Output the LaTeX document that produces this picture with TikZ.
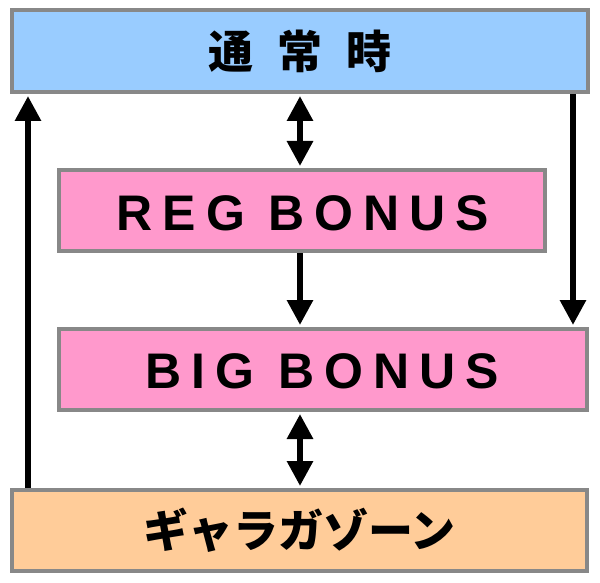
\documentclass[tikz,border=0pt]{standalone}
\usepackage{fontspec}
\setmainfont{Liberation Sans}
\newfontfamily\jpfont{Noto Sans CJK JP}
\usetikzlibrary{arrows.meta}
\definecolor{bluebox}{HTML}{99CCFF}
\definecolor{pinkbox}{HTML}{FF99CC}
\definecolor{orangebox}{HTML}{FFCC99}
\definecolor{edgegray}{HTML}{888888}
\begin{document}
\begin{tikzpicture}[x=1pt,y=1pt,
    statebox/.style={draw=edgegray, line width=4pt, inner sep=0pt, minimum height=81pt},
    latin/.style={font=\fontsize{50}{50}\selectfont\bfseries\addfontfeature{LetterSpace=20}},
    jp/.style={font=\fontsize{45}{45}\selectfont\jpfont\bfseries},
    arr/.style={line width=6pt, -{Triangle[length=25pt,width=25pt]}, shorten >=2pt},
    biarr/.style={line width=6pt, {Triangle[length=25pt,width=25pt]}-{Triangle[length=25pt,width=25pt]}, shorten >=2pt, shorten <=2pt}]
  \useasboundingbox (0,0) rectangle (600,-583);
  \node (normal) at (300,-51) [statebox, fill=bluebox, minimum width=576pt, minimum height=82pt, jp] {通\hspace{24pt}常\hspace{24pt}時};
  \node (reg) at (302,-210.5) [statebox, fill=pinkbox, minimum width=486pt] {};
  \node (regtext) at (303,-213) [latin] {REG BONUS};
  \node (big) at (323,-369.5) [statebox, fill=pinkbox, minimum width=528pt] {};
  \node (bigtext) at (322,-371) [latin] {BIG BONUS};
  \node (galaga) at (299.5,-530.5) [statebox, fill=orangebox, minimum width=575pt, jp] {ギャラガゾーン};
  \coordinate (lft) at (28,0);
  \coordinate (mid) at (300,0);
  \coordinate (rgt) at (573,0);
  \draw[arr] (galaga.north -| lft) to (normal.south -| lft);
  \draw[arr] (normal.south -| rgt) to (big.north -| rgt);
  \draw[biarr] (normal.south -| mid) to (reg.north -| mid);
  \draw[arr] (reg.south -| mid) to (big.north -| mid);
  \draw[biarr] (big.south -| mid) to (galaga.north -| mid);
\end{tikzpicture}
\end{document}
